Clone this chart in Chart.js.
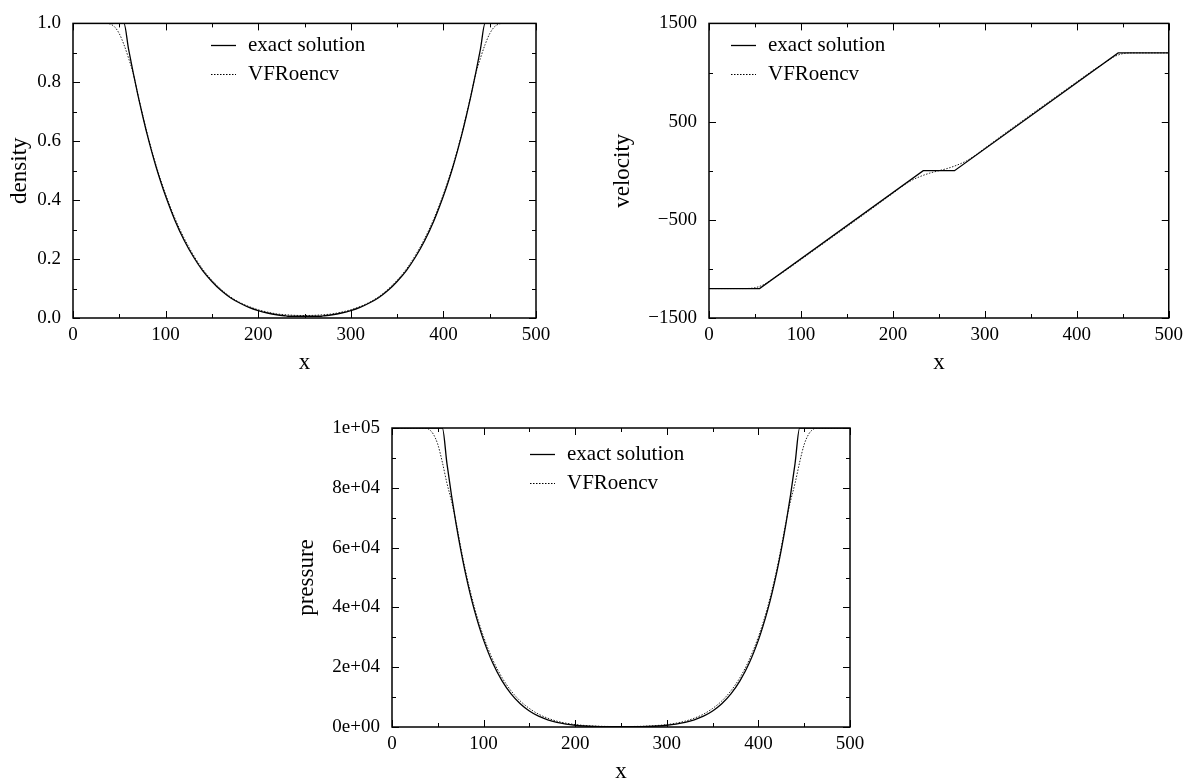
<!DOCTYPE html>
<html>
<head>
<meta charset="utf-8">
<script src="https://cdn.jsdelivr.net/npm/chart.js@4/dist/chart.umd.min.js"></script>
<style>
body { margin: 0; background: #fff; width: 1189px; height: 783px; position: relative; overflow: hidden; }
canvas { position: absolute; }
</style>
</head>
<body>
<canvas id="density" width="590" height="385" style="left:0px;top:0px"></canvas>
<canvas id="velocity" width="599" height="385" style="left:590px;top:0px"></canvas>
<canvas id="pressure" width="600" height="398" style="left:290px;top:385px"></canvas>
<script>
// exact Riemann solution, sampled in x
var xExact = [0, 55, 60, 65, 70, 75, 80, 85, 90, 95, 100, 110, 120, 130, 140, 150, 160, 170, 180, 190, 200, 210, 220, 230, 233,
              267, 270, 280, 290, 300, 310, 320, 330, 340, 350, 360, 370, 380, 390, 400, 405, 410, 415, 420, 425, 430, 435, 440, 445, 500];
var densityExact = [1, 1, 0.913, 0.833, 0.758, 0.689, 0.624, 0.565, 0.510, 0.460, 0.414, 0.332, 0.264, 0.208, 0.161, 0.124, 0.093, 0.069, 0.051, 0.036, 0.025, 0.017, 0.011, 0.007, 0.006,
                    0.006, 0.007, 0.011, 0.017, 0.025, 0.036, 0.051, 0.069, 0.093, 0.124, 0.161, 0.208, 0.264, 0.332, 0.414, 0.460, 0.510, 0.565, 0.624, 0.689, 0.758, 0.833, 0.913, 1, 1];
var pressureExact = [100000, 100000, 88070, 77380, 67820, 59310, 51710, 44970, 38990, 33720, 29060, 21380, 15510, 11080, 7780, 5360, 3620, 2390, 1530, 960, 580, 330, 180, 100, 80,
                     80, 100, 180, 330, 580, 960, 1530, 2390, 3620, 5360, 7780, 11080, 15510, 21380, 29060, 33720, 38990, 44970, 51710, 59310, 67820, 77380, 88070, 100000, 100000];
var xVelExact = [0, 55, 233, 267, 445, 500];
var velocityExact = [-1200, -1200, 0, 0, 1200, 1200];

// VFRoencv scheme
var xNum = [0, 35, 40, 45, 50, 55, 60, 65, 70, 75, 80, 90, 100, 110, 120, 130, 140, 150, 160, 170, 180, 190, 200, 210, 220, 230, 240,
            250,
            260, 270, 280, 290, 300, 310, 320, 330, 340, 350, 360, 370, 380, 390, 400, 410, 420, 425, 430, 435, 440, 445, 450, 455, 460, 465, 500];
var densityNum = [1, 1, 0.998, 0.988, 0.965, 0.928, 0.882, 0.830, 0.760, 0.692, 0.628, 0.515, 0.420, 0.339, 0.271, 0.214, 0.166, 0.128, 0.097, 0.072, 0.053, 0.039, 0.028, 0.020, 0.014, 0.011, 0.009,
                  0.0085,
                  0.009, 0.011, 0.014, 0.020, 0.028, 0.039, 0.053, 0.072, 0.097, 0.128, 0.166, 0.214, 0.271, 0.339, 0.420, 0.515, 0.628, 0.692, 0.760, 0.830, 0.882, 0.928, 0.965, 0.988, 0.998, 1, 1];
var velocityNum = [-1200, -1200, -1200, -1198, -1192, -1178, -1158, -1128, -1097, -1066, -1037, -972, -905, -838, -771, -704, -637, -570, -502, -435, -367, -298, -230, -160, -100, -58, -25,
                   0,
                   25, 58, 100, 160, 230, 298, 367, 435, 502, 570, 637, 704, 771, 838, 905, 972, 1037, 1066, 1097, 1128, 1158, 1178, 1192, 1198, 1200, 1200, 1200];
var pressureNum = [100000, 100000, 99600, 98000, 94500, 88500, 81500, 75500, 68400, 60200, 52600, 40000, 30200, 22500, 16600, 12100, 8700, 6200, 4300, 2950, 1950, 1280, 820, 520, 330, 220, 160,
                   140,
                   160, 220, 330, 520, 820, 1280, 1950, 2950, 4300, 6200, 8700, 12100, 16600, 22500, 30200, 40000, 52600, 60200, 68400, 75500, 81500, 88500, 94500, 98000, 99600, 100000, 100000];

var seriesNames = ['exact solution', 'VFRoencv'];

Chart.defaults.font.family = '"Liberation Serif", "Times New Roman", serif';
Chart.defaults.color = '#000';

function pts(xs, ys) {
    return xs.map(function (x, i) { return { x: x, y: ys[i] }; });
}

function expLabel(v) {
    if (v === 0) return '0e+00';
    var e = Math.floor(Math.log10(v) + 1e-9);
    var m = Math.round(v / Math.pow(10, e));
    return m + 'e+' + (e < 10 ? '0' : '') + e;
}

// box round the plot area with inward ticks on all four sides
var frameTicks = {
    id: 'frameTicks',
    afterDatasetsDraw: function (chart) {
        var ctx = chart.ctx, a = chart.chartArea;
        var xs = chart.scales.x, ys = chart.scales.y;
        ctx.save();
        ctx.strokeStyle = '#000';
        ctx.lineWidth = 1;
        ctx.beginPath();
        xs.ticks.forEach(function (t) {
            var p = Math.round(xs.getPixelForValue(t.value)) + 0.5;
            var len = t.label ? 7 : 4;
            ctx.moveTo(p, a.bottom); ctx.lineTo(p, a.bottom - len);
            ctx.moveTo(p, a.top); ctx.lineTo(p, a.top + len);
        });
        ys.ticks.forEach(function (t) {
            var p = Math.round(ys.getPixelForValue(t.value)) + 0.5;
            var len = t.label ? 7 : 4;
            ctx.moveTo(a.left, p); ctx.lineTo(a.left + len, p);
            ctx.moveTo(a.right, p); ctx.lineTo(a.right - len, p);
        });
        ctx.stroke();
        ctx.lineWidth = 1.5;
        ctx.strokeRect(a.left, a.top, a.right - a.left, a.bottom - a.top);
        ctx.restore();
    }
};

// key drawn inside the plot: line sample then label
var inlineLegend = {
    id: 'inlineLegend',
    afterDraw: function (chart, args, opts) {
        var ctx = chart.ctx;
        ctx.save();
        ctx.font = '21px "Liberation Serif"';
        ctx.textBaseline = 'middle';
        ctx.fillStyle = '#000';
        ctx.strokeStyle = '#000';
        chart.data.datasets.forEach(function (ds, i) {
            var y = opts.y + i * 29 + 0.5;
            ctx.setLineDash(ds.borderDash || []);
            ctx.lineWidth = ds.borderWidth;
            ctx.beginPath();
            ctx.moveTo(opts.x, y);
            ctx.lineTo(opts.x + 25, y);
            ctx.stroke();
            ctx.setLineDash([]);
            ctx.fillText(ds.label, opts.x + 37, y);
        });
        ctx.restore();
    }
};

function makePlot(id, cfg) {
    new Chart(document.getElementById(id), {
        type: 'line',
        data: {
            datasets: [{
                label: seriesNames[0],
                data: cfg.exact,
                borderColor: '#000',
                borderWidth: 1.3,
                pointRadius: 0,
                fill: false,
                cubicInterpolationMode: cfg.smooth ? 'monotone' : 'default',
                tension: 0
            }, {
                label: seriesNames[1],
                data: cfg.num,
                borderColor: '#222',
                borderWidth: 1,
                borderDash: [1.5, 1.5],
                pointRadius: 0,
                fill: false,
                cubicInterpolationMode: 'monotone'
            }]
        },
        options: {
            responsive: false,
            animation: false,
            layout: { padding: { top: cfg.top, right: cfg.right, left: 0, bottom: 0 } },
            plugins: {
                legend: { display: false },
                tooltip: { enabled: false },
                inlineLegend: cfg.key
            },
            scales: {
                x: {
                    type: 'linear',
                    min: 0, max: 500,
                    grid: { display: false, drawTicks: false },
                    border: { display: false },
                    ticks: {
                        stepSize: 50, autoSkip: false, padding: 6,
                        font: { size: 19 },
                        callback: function (v) { return v % 100 === 0 ? String(v) : ''; }
                    },
                    title: { display: true, text: 'x', font: { size: 23, lineHeight: 1 }, padding: { top: 0, bottom: cfg.xTitlePad } },
                    afterFit: function (s) { s.height = cfg.xHeight; }
                },
                y: {
                    min: cfg.yMin, max: cfg.yMax,
                    grid: { display: false, drawTicks: false },
                    border: { display: false },
                    ticks: {
                        stepSize: cfg.yStep, autoSkip: false, padding: 12,
                        font: { size: 19 },
                        callback: cfg.yLabel
                    },
                    title: { display: true, text: cfg.yTitle, font: { size: 23, lineHeight: 1 }, padding: { top: cfg.yTitlePad, bottom: 0 } },
                    afterFit: function (s) { s.width = cfg.yWidth; }
                }
            }
        },
        plugins: [frameTicks, inlineLegend]
    });
}

makePlot('density', {
    exact: pts(xExact, densityExact), num: pts(xNum, densityNum), smooth: true,
    yMin: 0, yMax: 1, yStep: 0.1, yTitle: 'density',
    yLabel: function (v) { return Math.round(v * 10) % 2 === 0 ? v.toFixed(1) : ''; },
    top: 18, right: 54, yWidth: 73, xHeight: 67, xTitlePad: 11, yTitlePad: 8,
    key: { x: 211, y: 45 }
});

makePlot('velocity', {
    exact: pts(xVelExact, velocityExact), num: pts(xNum, velocityNum), smooth: false,
    yMin: -1500, yMax: 1500, yStep: 500, yTitle: 'velocity',
    yLabel: function (v) {
        if (Math.abs(v) % 1000 !== 500) return '';
        return v < 0 ? '\u2212' + Math.abs(v) : String(v);
    },
    top: 18, right: 16, yWidth: 119, xHeight: 67, xTitlePad: 11, yTitlePad: 21,
    key: { x: 141, y: 45 }
});

makePlot('pressure', {
    exact: pts(xExact, pressureExact), num: pts(xNum, pressureNum), smooth: true,
    yMin: 0, yMax: 100000, yStep: 10000, yTitle: 'pressure',
    yLabel: function (v) { return v % 20000 === 0 ? expLabel(v) : ''; },
    top: 43, right: 40, yWidth: 102, xHeight: 56, xTitlePad: 0, yTitlePad: 5,
    key: { x: 240, y: 69 }
});
</script>
</body>
</html>
